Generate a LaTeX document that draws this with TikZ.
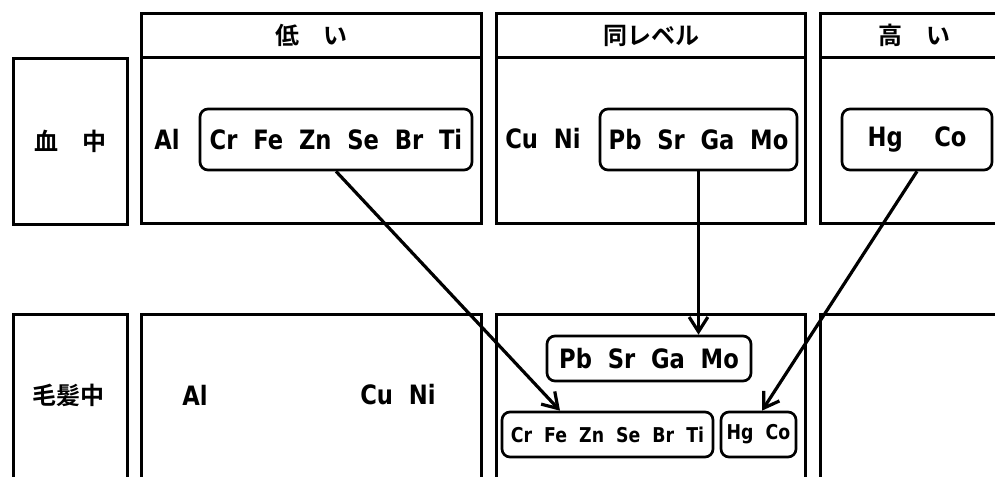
\documentclass[tikz,border=0pt]{standalone}
\usepackage{fontspec}
\setmainfont{DejaVu Sans}[FakeStretch=0.85]
\newfontfamily\jp{Noto Sans CJK JP}[BoldFont={Noto Sans CJK JP Bold}]
\usetikzlibrary{arrows.meta}
\def\u{0.75pt}
\begin{document}
\begin{tikzpicture}[x=0.75pt,y=-0.75pt,
  box/.style={draw, line width=2.3pt, inner sep=0pt, anchor=north west},
  rbox/.style={draw, line width=2pt, rounded corners=6pt, inner sep=0pt},
  big/.style={font=\fontsize{20}{22}\selectfont\bfseries},
  small/.style={font=\fontsize{15.3}{17}\selectfont\bfseries},
  jpf/.style={font=\jp\fontsize{18}{20}\selectfont\bfseries},
  arr/.style={line width=2.4pt, -{Straight Barb[length=11pt,width=14pt]}}]
\useasboundingbox (0,0) rectangle (995,477);
\clip (0,0) rectangle (995,477);
% top row frames
\node[box, minimum width=114*\u, minimum height=166*\u] (lab1) at (12,57) {};
\node[box, minimum width=340*\u, minimum height=44*\u] (lowh) at (140,12) {};
\node[box, minimum width=340*\u, minimum height=166*\u] (lowb) at (140,56) {};
\node[box, minimum width=309*\u, minimum height=44*\u] (midh) at (495,12) {};
\node[box, minimum width=309*\u, minimum height=166*\u] (midb) at (495,56) {};
\node[box, minimum width=188*\u, minimum height=44*\u] (highh) at (819,12) {};
\node[box, minimum width=188*\u, minimum height=166*\u] (highb) at (819,56) {};
% bottom row frames
\node[box, minimum width=114*\u, minimum height=200*\u] (lab2) at (12,313) {};
\node[box, minimum width=340*\u, minimum height=200*\u] (lowb2) at (140,313) {};
\node[box, minimum width=309*\u, minimum height=200*\u] (midb2) at (495,313) {};
\node[box, minimum width=188*\u, minimum height=200*\u] (highb2) at (819,313) {};
% header texts
\node[jpf] (lab1t) at (lab1.center) {血　中};
\node[jpf] (lowt) at (lowh.center) {低　い};
\node[jpf] (midt) at (midh.center) {同レベル};
\node[jpf] (hight) at (highh.center) {高　い};
% top row contents
\node[big] (al1) at (167,139) {Al};
\node[rbox, big, minimum width=272*\u, minimum height=61*\u] (lowg) at (336,139.5) {Cr~~Fe~~Zn~~Se~~Br~~Ti};
\node[big] (cuni1) at (543,139) {Cu~~Ni};
\node[rbox, big, minimum width=197*\u, minimum height=61*\u] (midg) at (698.5,139.5) {Pb~~Sr~~Ga~~Mo};
\node[rbox, big, minimum width=150*\u, minimum height=61*\u] (highg) at (917,139.5) {Hg~~~~Co};
% bottom row contents
\node[jpf] (lab2t) at (68,395) {毛髪中};
\node[big] (al2) at (195,395) {Al};
\node[big] (cuni2) at (398,395) {Cu~~Ni};
\node[rbox, big, minimum width=204*\u, minimum height=45*\u] (pbb) at (649,358.5) {Pb~~Sr~~Ga~~Mo};
\node[rbox, small, minimum width=211*\u, minimum height=45*\u] (crb) at (607.5,434.5) {Cr~~Fe~~Zn~~Se~~Br~~Ti};
\node[rbox, small, minimum width=75*\u, minimum height=45*\u] (hgb) at (758.5,434.5) {Hg~~Co};
% arrows
\draw[arr] (lowg.south) -- ([xshift=-47.5*\u]crb.north);
\draw[arr] (midg.south) -- (midg.south |- pbb.north);
\draw[arr] (highg.south) -- ([xshift=3.5*\u]hgb.north);
\end{tikzpicture}
\end{document}
